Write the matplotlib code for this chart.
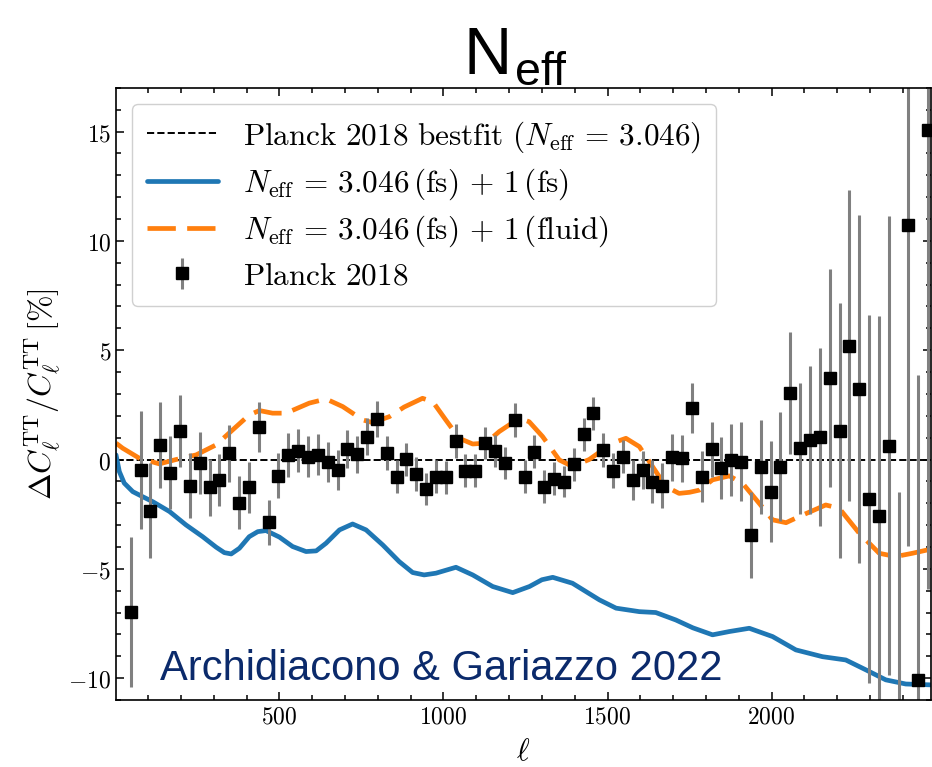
import matplotlib
matplotlib.use("Agg")
import matplotlib.pyplot as plt
from matplotlib.ticker import MultipleLocator, FuncFormatter

plt.rcParams["mathtext.fontset"] = "cm"
plt.rcParams["font.family"] = ["DejaVu Sans"]

# Binned Planck 2018 TT residuals (percent) with 1-sigma errors
ell_bins = [47 + 30 * i for i in range(82)]
planck_res = [
    -6.99, -0.48, -2.34, 0.67, -0.60, 1.31, -1.19, -0.17, -1.28, -0.93,
    0.29, -1.97, -1.28, 1.48, -2.87, -0.74, 0.21, 0.41, 0.13, 0.21,
    -0.10, -0.48, 0.47, 0.24, 1.05, 1.86, 0.29, -0.78, 0.01, -0.66,
    -1.36, -0.78, -0.81, 0.85, -0.51, -0.51, 0.77, 0.39, -0.17, 1.81,
    -0.78, 0.36, -1.24, -0.87, -1.01, -0.22, 1.16, 2.12, 0.44, -0.51,
    0.13, -0.93, -0.48, -1.01, -1.19, 0.10, 0.06, 2.35, -0.78, 0.47,
    -0.40, -0.02, -0.10, -3.45, -0.32, -1.47, -0.32, 3.03, 0.52, 0.90,
    1.02, 3.72, 1.32, 5.21, 3.22, -1.80, -2.58, 0.64, -13.0, 10.73,
    -10.08, 15.08,
]
planck_err = [
    3.43, 2.69, 2.17, 1.98, 1.66, 1.64, 1.49, 1.41, 1.30, 1.18,
    1.30, 1.20, 1.16, 1.14, 1.04, 1.03, 0.99, 0.99, 0.95, 0.94,
    0.91, 0.90, 0.88, 0.85, 0.84, 0.82, 0.79, 0.76, 0.76, 0.76,
    0.74, 0.76, 0.76, 0.76, 0.75, 0.75, 0.74, 0.72, 0.73, 0.76,
    0.75, 0.76, 0.76, 0.76, 0.72, 0.76, 0.76, 0.76, 0.76, 0.80,
    0.76, 0.91, 0.88, 0.99, 1.03, 1.07, 1.07, 1.14, 1.17, 1.25,
    1.42, 1.64, 1.81, 1.96, 2.15, 2.30, 2.50, 2.80, 3.00, 3.40,
    4.07, 5.00, 5.84, 7.10, 7.95, 8.43, 9.16, 10.50, 11.50, 14.70,
    13.95, 21.00,
]

# Model residuals: free-streaming extra species
ell_fs = [2, 12, 27, 53, 83, 114, 165, 215, 266, 307, 332, 353, 378, 408, 434,
          459, 500, 540, 581, 612, 642, 683, 723, 764, 815, 865, 906, 941, 977,
          1038, 1089, 1150, 1211, 1262, 1300, 1333, 1393, 1475, 1526, 1597,
          1647, 1708, 1760, 1820, 1871, 1932, 2003, 2074, 2155, 2226, 2287,
          2348, 2409, 2486]
res_fs = [0.21, -0.55, -1.08, -1.47, -1.70, -1.93, -2.38, -2.99, -3.53, -4.01,
          -4.26, -4.32, -4.06, -3.53, -3.30, -3.25, -3.55, -3.98, -4.21, -4.18,
          -3.83, -3.22, -2.95, -3.22, -3.91, -4.67, -5.17, -5.28, -5.20, -4.93,
          -5.28, -5.81, -6.09, -5.81, -5.50, -5.39, -5.66, -6.42, -6.80, -6.96,
          -7.00, -7.34, -7.70, -8.02, -7.87, -7.72, -8.10, -8.71, -9.02, -9.17,
          -9.62, -10.08, -10.27, -10.31]

# Model residuals: extra species as a fluid
ell_fluid = [2, 22, 73, 134, 185, 246, 307, 357, 408, 439, 479, 520, 591, 642,
             693, 754, 784, 835, 880, 936, 967, 1007, 1048, 1089, 1129, 1170,
             1231, 1261, 1302, 1353, 1393, 1444, 1515, 1556, 1597, 1637, 1678,
             1718, 1750, 1780, 1820, 1871, 1911, 1962, 2003, 2044, 2084, 2165,
             2206, 2267, 2328, 2378, 2429, 2486]
res_fluid = [0.75, 0.52, 0.06, -0.20, 0.00, 0.21, 0.67, 1.35, 2.04, 2.24, 2.12,
             2.12, 2.58, 2.77, 2.42, 1.81, 1.69, 1.96, 2.40, 2.80, 2.65, 1.81,
             0.97, 0.71, 0.75, 1.28, 1.89, 1.73, 1.05, -0.02, -0.32, 0.00, 0.75,
             0.97, 0.59, -0.32, -1.24, -1.55, -1.50, -1.40, -0.93, -0.75, -1.08,
             -2.00, -2.76, -2.89, -2.61, -2.08, -2.23, -3.37, -4.29, -4.44,
             -4.29, -4.10]

fig = plt.figure(figsize=(9.32, 7.67), dpi=100)
ax = fig.add_axes([0.1245, 0.0874, 0.8745, 0.798])

ax.axhline(0, color="black", ls="--", lw=1.4,
           label=r"$\mathrm{Planck\ 2018\ bestfit}\ (N_{\rm eff}\,=\,3.046)$")
ax.plot(ell_fs, res_fs, color="#1f77b4", lw=3.4, solid_joinstyle="round",
        solid_capstyle="round",
        label=r"$N_{\rm eff}\,=\,3.046\,(\mathrm{fs})\,+\,1\,(\mathrm{fs})$")
ax.plot(ell_fluid, res_fluid, color="#ff7f0e", lw=3.4, ls=(0, (6, 2.4)),
        dash_joinstyle="round",
        label=r"$N_{\rm eff}\,=\,3.046\,(\mathrm{fs})\,+\,1\,(\mathrm{fluid})$")
ax.errorbar(ell_bins, planck_res, yerr=planck_err, fmt="s", color="black",
            ms=8.5, ecolor="gray", elinewidth=2.2, capsize=0,
            label=r"$\mathrm{Planck\ 2018}$")

ax.set_xlim(2, 2486)
ax.set_ylim(-11, 17)
ax.xaxis.set_major_locator(MultipleLocator(500))
ax.xaxis.set_minor_locator(MultipleLocator(100))
ax.yaxis.set_major_locator(MultipleLocator(5))
ax.yaxis.set_minor_locator(MultipleLocator(1))
fmt = FuncFormatter(lambda v, p: r"$%g$" % v)
ax.xaxis.set_major_formatter(fmt)
ax.yaxis.set_major_formatter(fmt)
ax.tick_params(which="both", direction="in", top=True, right=True,
               labelsize=17, width=1.1)
ax.tick_params(which="major", length=6)
ax.tick_params(which="minor", length=3.5)
for s in ax.spines.values():
    s.set_linewidth(1.2)

ax.set_xlabel(r"$\ell$", fontsize=22, labelpad=6)
ax.set_ylabel(r"$\Delta C_\ell^{\rm TT}/C_\ell^{\rm TT}\,[\%]$", fontsize=23,
              labelpad=4)

ax.set_title(r"N$_\mathregular{eff}$", fontsize=48, family="Liberation Sans",
             pad=8, x=0.49)

ax.text(0.054, 0.033, "Archidiacono & Gariazzo 2022", transform=ax.transAxes,
        fontsize=30, family="Liberation Sans", color="#0b2a6b",
        ha="left", va="baseline")

ax.legend(loc="upper left", fontsize=22.5, handlelength=2.25,
          borderaxespad=0.5, labelspacing=0.38, borderpad=0.5,
          framealpha=1, edgecolor="#d0d0d0")

fig.savefig("out.png", dpi=100)
